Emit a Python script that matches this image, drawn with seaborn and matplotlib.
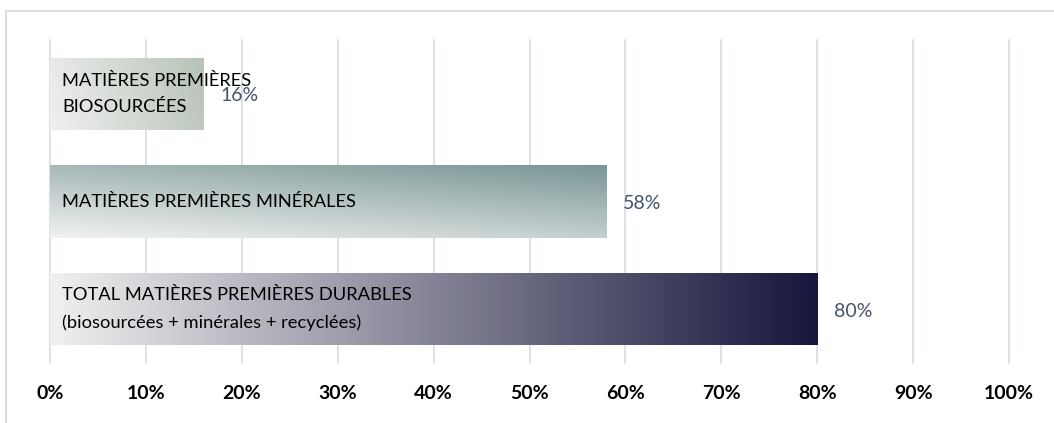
import numpy as np
import pandas as pd
import matplotlib.pyplot as plt
import seaborn as sns
from matplotlib.colors import LinearSegmentedColormap
from matplotlib.lines import Line2D

# Chart data
categories = ['MATIÈRES PREMIÈRES\nBIOSOURCÉES',
              'MATIÈRES PREMIÈRES MINÉRALES',
              'TOTAL MATIÈRES PREMIÈRES DURABLES\n(biosourcées + minérales + recyclées)']
values = [16, 58, 80]
value_labels = ['16%', '58%', '80%']
tick_values = [0, 10, 20, 30, 40, 50, 60, 70, 80, 90, 100]
tick_labels = ['0%', '10%', '20%', '30%', '40%', '50%', '60%', '70%', '80%', '90%', '100%']

# gradient end colours and direction weights (x, y-up) per bar
grad_colors = [('#f0f0f0', '#b7c3b7'), ('#f2f2f2', '#799695'), ('#f0f0f0', '#17163c')]
grad_dirs = [(1.0, 0.15), (0.4, 0.65), (1.0, 0.0)]

sns.set_theme(style='white')
plt.rcParams['font.family'] = ['Lato', 'DejaVu Sans']

fig = plt.figure(figsize=(10.54, 4.23), dpi=100)
ax = fig.add_axes([50 / 1054, 60 / 423, 959 / 1054, 323 / 423])

df = pd.DataFrame({'cat': categories, 'val': values})
sns.barplot(data=df, x='val', y='cat', orient='h', width=0.67, color='white', ax=ax)

# replace flat fills with gradients
for patch, (c0, c1), (wx, wy) in zip(ax.patches, grad_colors, grad_dirs):
    x0, y0 = patch.get_x(), patch.get_y()
    w, h = patch.get_width(), patch.get_height()
    xn = np.linspace(0, 1, 300)
    yn = np.linspace(1, 0, 60)  # row 0 is the visual top
    X, Y = np.meshgrid(xn, yn)
    t = np.clip((wx * X + wy * Y) / (wx + wy), 0, 1)
    cmap = LinearSegmentedColormap.from_list('g', [c0, c1])
    im = ax.imshow(t, cmap=cmap, vmin=0, vmax=1, aspect='auto',
                   extent=(x0, x0 + w, y0 + h, y0), zorder=2, interpolation='bilinear')
    im.set_clip_path(patch)
    patch.set_facecolor('none')
    patch.set_edgecolor('none')

ax.set_xlim(0, 100)
ax.set_ylim(2.5, -0.5)

# labels inside and after the bars
for i, (cat, v, lab) in enumerate(zip(categories, values, value_labels)):
    ax.text(1.3, i, cat, va='center', ha='left', fontsize=13.2, color='black',
            linespacing=1.8, zorder=4)
    ax.annotate(lab, (v, i), xytext=(17, -2), textcoords='offset pixels',
                va='center', ha='left', fontsize=14, color='#44546a', zorder=4)

ax.set_xticks(tick_values)
ax.set_xticklabels(tick_labels, fontweight='bold', fontsize=14)
ax.set_yticks([])
ax.set_xlabel('')
ax.set_ylabel('')
ax.tick_params(axis='x', length=0, pad=16, colors='black')
ax.xaxis.grid(True, color='#dde1e8', linewidth=1.5)
ax.yaxis.grid(False)
ax.set_axisbelow(True)
for line in ax.get_xgridlines():
    line.set_clip_on(False)
sns.despine(ax=ax, left=True, bottom=True)

# outer frame (top and left edges visible)
frame = '#dadde3'
fig.add_artist(Line2D([6 / 1054, 1], [1 - 11 / 423] * 2, transform=fig.transFigure,
                      color=frame, lw=1.5))
fig.add_artist(Line2D([6 / 1054] * 2, [0, 1 - 11 / 423], transform=fig.transFigure,
                      color=frame, lw=1.5))

fig.savefig('out.png', dpi=100)
